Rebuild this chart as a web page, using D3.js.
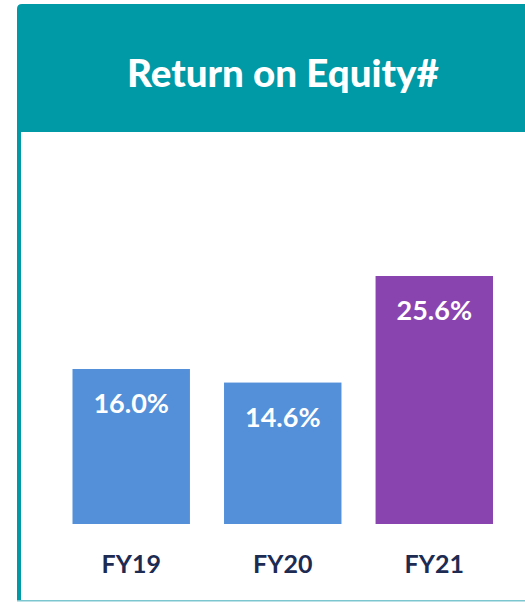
<!DOCTYPE html>
<html><head><meta charset="utf-8">
<script src="https://cdn.jsdelivr.net/npm/d3@7"></script>
<style>html,body{margin:0;padding:0;background:#fff;}svg{display:block;}</style>
</head><body>
<script>
const categories = ["FY19", "FY20", "FY21"];
const values = [16.0, 14.6, 25.6];
const labels = ["16.0%", "14.6%", "25.6%"];
const colors = ["#5390d9", "#5390d9", "#8a44b0"];
const title = "Return on Equity#";

const W = 525, H = 602;
const svg = d3.select("body").append("svg").attr("width", W).attr("height", H);

// card
svg.append("rect").attr("x", 0).attr("y", 0).attr("width", W).attr("height", H).attr("fill", "#fff");
svg.append("path").attr("d", "M17,132 V9 Q17,4 22,4 H525 V132 Z").attr("fill", "#0099a6");
svg.append("rect").attr("x", 17).attr("y", 130).attr("width", 4).attr("height", 471).attr("fill", "#0099a6");
svg.append("rect").attr("x", 17).attr("y", 600).attr("width", 508).attr("height", 1.5).attr("fill", "#7cc6cf");

svg.append("text").attr("x", 283).attr("y", 87).attr("text-anchor", "middle")
  .attr("fill", "#fff").attr("font-family", "Lato").attr("font-weight", 900)
  .attr("font-size", 38.5).text(title);

const x = d3.scaleBand().domain(categories).range([72.5, 493]).paddingInner(0.225).paddingOuter(0);
const y = d3.scaleLinear().domain([0, 25.6]).range([524, 276]);

svg.selectAll("rect.bar").data(categories).enter().append("rect").attr("class", "bar")
  .attr("x", d => x(d)).attr("width", x.bandwidth())
  .attr("y", (d, i) => y(values[i])).attr("height", (d, i) => y(0) - y(values[i]))
  .attr("fill", (d, i) => colors[i]);

svg.selectAll("text.val").data(categories).enter().append("text").attr("class", "val")
  .attr("x", d => x(d) + x.bandwidth() / 2).attr("y", (d, i) => y(values[i]) + 44)
  .attr("text-anchor", "middle").attr("fill", "#fff")
  .attr("font-family", "Lato").attr("font-weight", 700).attr("font-size", 27)
  .text((d, i) => labels[i]);

const axis = d3.axisBottom(x).tickSize(0).tickPadding(0);
const g = svg.append("g").attr("transform", "translate(0,555)").call(axis);
g.select(".domain").remove();
g.selectAll("text").attr("font-family", "Lato").attr("font-weight", 700)
  .attr("font-size", 25).attr("fill", "#1d2b53").attr("dy", "0.72em");
</script>
</body></html>
